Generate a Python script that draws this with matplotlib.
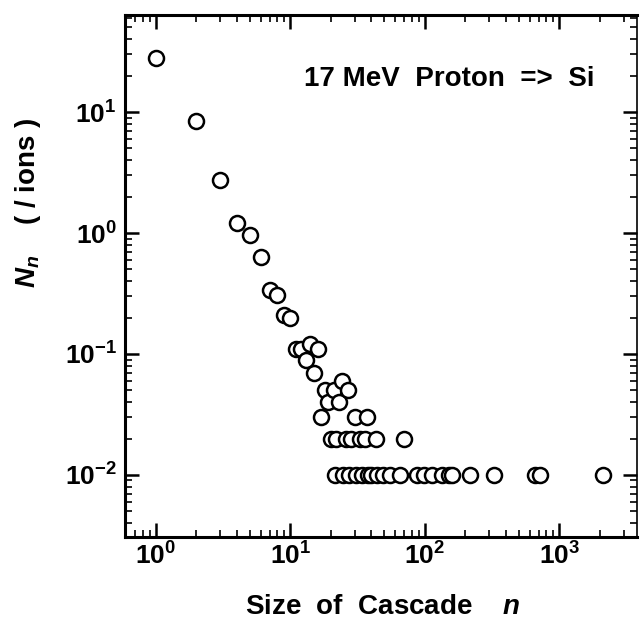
import matplotlib
matplotlib.use("Agg")
import math
import matplotlib.pyplot as plt
from matplotlib.ticker import FixedLocator, LogLocator, FuncFormatter, NullFormatter

plt.rcParams['font.family'] = ['Liberation Sans', 'DejaVu Sans']
plt.rcParams['font.weight'] = 'bold'
plt.rcParams['mathtext.fontset'] = 'custom'
plt.rcParams['mathtext.rm'] = 'Liberation Sans:bold'
plt.rcParams['mathtext.bf'] = 'Liberation Sans:bold'
plt.rcParams['mathtext.it'] = 'Liberation Sans:bold:italic'

# Data: cascade size n and number of cascades per ion N_n
cascade_size = [1, 2, 3, 4, 5, 6, 7, 8, 9, 10,
                11, 12, 13, 14, 15, 16,
                17, 18, 19, 21, 23, 24, 27, 30, 37,
                20, 22, 26, 28, 33, 36, 43, 70,
                21.5, 24.5, 27.5, 30.5, 34, 37.5, 40, 44, 49, 55, 65,
                87, 98, 113, 134, 150, 159, 217, 329, 661, 720, 2090]
n_per_ion = [28, 8.5, 2.75, 1.2, 0.96, 0.63, 0.34, 0.31, 0.21, 0.20,
             0.11, 0.11, 0.09, 0.12, 0.07, 0.11,
             0.03, 0.05, 0.04, 0.05, 0.04, 0.06, 0.05, 0.03, 0.03,
             0.02, 0.02, 0.02, 0.02, 0.02, 0.02, 0.02, 0.02,
             0.01, 0.01, 0.01, 0.01, 0.01, 0.01, 0.01, 0.01, 0.01, 0.01, 0.01,
             0.01, 0.01, 0.01, 0.01, 0.01, 0.01, 0.01, 0.01, 0.01, 0.01, 0.01]

x_major = [1, 10, 100, 1000]
y_major = [0.01, 0.1, 1, 10]
x_limits = (0.59, 3770)
y_limits = (0.00307, 63.4)

title_text = "17 MeV  Proton  =>  Si"
x_label = "Size  of  Cascade    $n$"
y_label = "$N_n$    ( / ions )"

fig = plt.figure(figsize=(6.42, 6.32), dpi=100)
ax = fig.add_axes([125 / 642, 95 / 632, 512 / 642, 522 / 632])

ax.plot(cascade_size, n_per_ion, linestyle='none', marker='o',
        markersize=10.8, markerfacecolor='white', markeredgecolor='black',
        markeredgewidth=1.8)

ax.set_xscale('log')
ax.set_yscale('log')
ax.set_xlim(*x_limits)
ax.set_ylim(*y_limits)

def fmt(v, pos):
    e = int(round(math.log10(v)))
    return r'$\mathbf{10^{%d}}$' % e

ax.xaxis.set_major_locator(FixedLocator(x_major))
ax.yaxis.set_major_locator(FixedLocator(y_major))
ax.xaxis.set_minor_locator(LogLocator(base=10, subs=range(2, 10), numticks=20))
ax.yaxis.set_minor_locator(LogLocator(base=10, subs=range(2, 10), numticks=20))
ax.xaxis.set_major_formatter(FuncFormatter(fmt))
ax.yaxis.set_major_formatter(FuncFormatter(fmt))
ax.xaxis.set_minor_formatter(NullFormatter())
ax.yaxis.set_minor_formatter(NullFormatter())

ax.tick_params(which='both', direction='in', top=True, right=True, colors='black')
ax.tick_params(which='major', length=10, width=1.8, labelsize=19)
ax.tick_params(axis='x', which='major', pad=4)
ax.tick_params(axis='y', which='major', pad=6)
ax.tick_params(which='minor', length=5, width=1.2)

for s in ['left', 'bottom', 'top']:
    ax.spines[s].set_linewidth(2.2)
ax.spines['right'].set_linewidth(1.2)

ax.text(0.633, 0.877, title_text, transform=ax.transAxes, ha='center',
        va='center', fontsize=20, fontweight='bold')

fig.text(383 / 642, 1 - 607 / 632, x_label, ha='center', va='center',
         fontsize=20, fontweight='bold')
fig.text(28 / 642, 1 - 203 / 632, y_label, ha='center', va='center',
         rotation=90, fontsize=20, fontweight='bold')

fig.savefig('out.png', dpi=100)
